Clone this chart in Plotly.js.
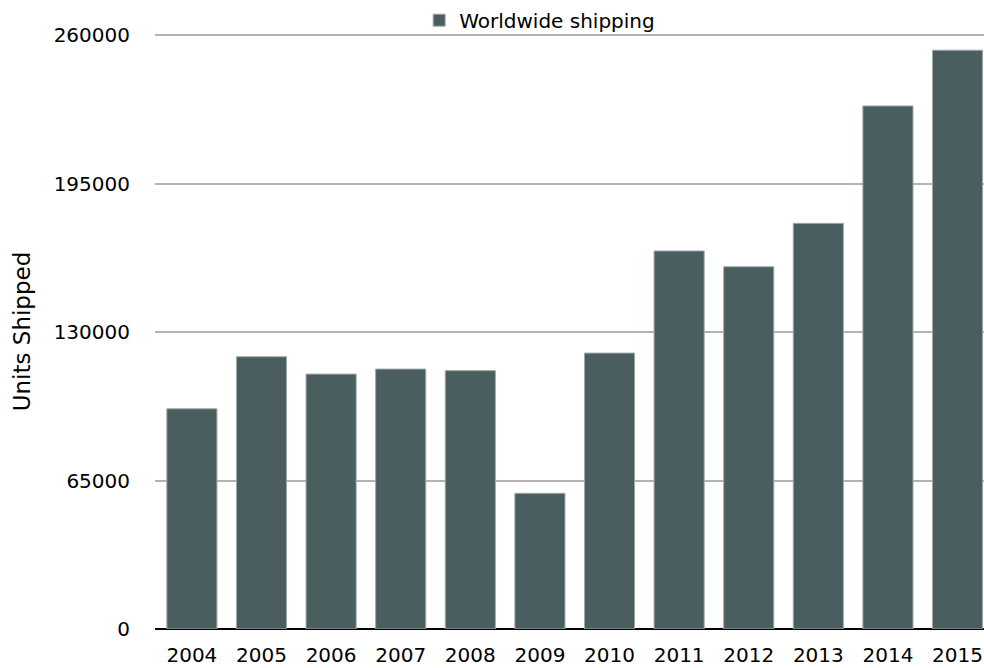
<!DOCTYPE html>
<html>
<head>
<meta charset="utf-8">
<script src="https://cdn.plot.ly/plotly-3.0.1.min.js"></script>
<style>html,body{margin:0;padding:0;background:#fff;}#chart{width:984px;height:668px;}</style>
</head>
<body>
<div id="chart"></div>
<script>
const years = ["2004","2005","2006","2007","2008","2009","2010","2011","2012","2013","2014","2015"];
const unitsShipped = [96400, 119200, 111600, 113800, 113100, 59400, 120800, 165500, 158600, 177600, 229000, 253400];
const yTicks = [0, 65000, 130000, 195000, 260000];
const seriesName = "Worldwide shipping";

const trace = {
  type: "bar",
  x: years,
  y: unitsShipped,
  name: seriesName,
  showlegend: true,
  marker: {color: "#4b5e5f", line: {color: "#a0a8a8", width: 1}}
};

const layout = {
  width: 984, height: 668,
  margin: {l: 155, r: 0, t: 34, b: 39, autoexpand: false},
  paper_bgcolor: "#fff", plot_bgcolor: "#fff",
  font: {family: "DejaVu Sans, Arial, sans-serif", size: 20, color: "#000"},
  bargap: 0.28,
  showlegend: true,
  legend: {orientation: "h", x: 0.464, xanchor: "center", yref: "container", y: 0.999, yanchor: "top", bgcolor: "rgba(0,0,0,0)", font: {size: 20}, itemwidth: 30},
  xaxis: {
    type: "category",
    range: [-0.53, 11.38],
    showgrid: false, showline: false, ticks: "",
    ticklabelstandoff: 12,
    tickfont: {size: 20}
  },
  yaxis: {
    range: [0, 260500],
    tickvals: yTicks,
    ticktext: yTicks.map(String),
    showgrid: true, gridcolor: "#b3b3b3", gridwidth: 2,
    zeroline: true, zerolinecolor: "#000", zerolinewidth: 2,
    showline: false, ticks: "",
    ticklabelstandoff: 24,
    tickfont: {size: 20},
    title: {text: "Units Shipped", font: {size: 23}, standoff: 16}
  }
};

Plotly.newPlot("chart", [trace], layout, {displayModeBar: false, staticPlot: true});
</script>
</body>
</html>
